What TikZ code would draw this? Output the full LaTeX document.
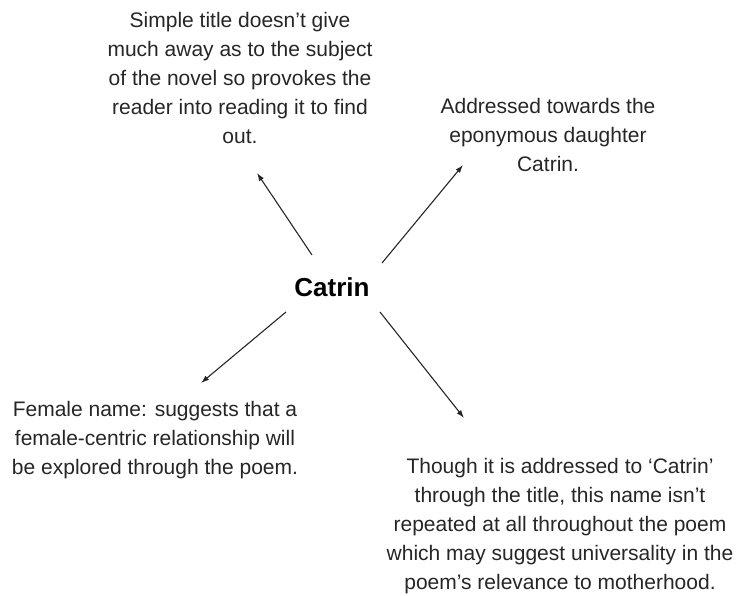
\documentclass[tikz,border=0pt]{standalone}
\usepackage{fontspec}
\setmainfont{Liberation Sans}
\usetikzlibrary{arrows.meta}

\begin{document}
\begin{tikzpicture}[x=1pt,y=-1pt,
	note/.style={align=center,text=black!85,font=\fontsize{21}{29}\selectfont},
	link/.style={-{Latex[length=8pt,width=5.5pt]},line width=1.1pt,black!85}]
	\useasboundingbox (0,0) rectangle (738,595);

	\node[font=\bfseries\fontsize{26}{30}\selectfont] (catrin) at (332,287) {Catrin};

	\node[note] (title) at (240,78) {Simple title doesn't give\\much away as to the subject\\of the novel so provokes the\\reader into reading it to find\\out.};
	\node[note] (daughter) at (548,135) {Addressed towards the\\eponymous daughter\\Catrin.};
	\node[note] (female) at (155,440) {Female name: suggests that a\\female-centric relationship will\\be explored through the poem.};
	\node[note] (universal) at (560,526) {Though it is addressed to `Catrin'\\through the title, this name isn't\\repeated at all throughout the poem\\which may suggest universality in the\\poem's relevance to motherhood.};

	\coordinate (s1) at (312,255);
	\coordinate (e1) at (257,173);
	\coordinate (s2) at (382,263);
	\coordinate (e2) at (463,165);
	\coordinate (s3) at (286,312);
	\coordinate (e3) at (201,383);
	\coordinate (s4) at (380,312);
	\coordinate (e4) at (464,418);

	\draw[link] (s1) -- (e1);
	\draw[link] (s2) -- (e2);
	\draw[link] (s3) -- (e3);
	\draw[link] (s4) -- (e4);
\end{tikzpicture}
\end{document}
